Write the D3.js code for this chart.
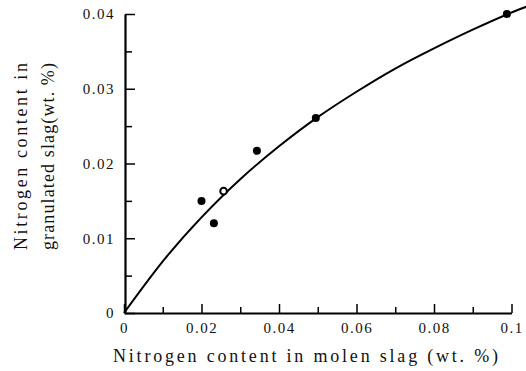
<!DOCTYPE html>
<html>
<head>
<meta charset="utf-8">
<script src="https://cdn.jsdelivr.net/npm/d3@7"></script>
<style>
  body { margin: 0; background: #fff; }
  svg { display: block; }
</style>
</head>
<body>
<svg id="chart" width="526" height="371"></svg>
<script>
// measured points: N in molten slag vs N in granulated slag (wt.%)
const filledX = [0.020, 0.0232, 0.0343, 0.0495, 0.0988];
const filledY = [0.0150, 0.0120, 0.0217, 0.0261, 0.0400];
const openX = [0.0257];
const openY = [0.0163];

// fitted curve
const curveX = [0, 0.01, 0.02, 0.03, 0.04, 0.05, 0.06, 0.07, 0.08, 0.09, 0.1, 0.104];
const curveY = [0, 0.0069, 0.0128, 0.0179, 0.0223, 0.0262, 0.0296, 0.0327, 0.0354, 0.0379, 0.0402, 0.0410];

const xTicks = [0, 0.02, 0.04, 0.06, 0.08, 0.1];
const xTickLabels = ["0", "0.02", "0.04", "0.06", "0.08", "0.1"];
const xMinor = [0.01, 0.03, 0.05, 0.07, 0.09];
const yTicks = [0, 0.01, 0.02, 0.03, 0.04];
const yTickLabels = ["0", "0.01", "0.02", "0.03", "0.04"];
const yMinor = [0.005, 0.015, 0.025, 0.035];

const FONT = "Liberation Serif";
const svg = d3.select("#chart");

const x = d3.scaleLinear().domain([0, 0.1]).range([124, 511.5]);
const y = d3.scaleLinear().domain([0, 0.04]).range([313, 14]);

// minor ticks
svg.append("g")
  .attr("transform", "translate(0,313)")
  .call(d3.axisBottom(x).tickValues(xMinor).tickSize(-6).tickFormat(""))
  .call(g => g.select(".domain").remove())
  .selectAll("line").attr("stroke-width", 1.5);

svg.append("g")
  .attr("transform", "translate(125,0)")
  .call(d3.axisLeft(y).tickValues(yMinor).tickSize(-7).tickFormat(""))
  .call(g => g.select(".domain").remove())
  .selectAll("line").attr("stroke-width", 1.5);

// major axes
const xAxisG = svg.append("g")
  .attr("transform", "translate(0,313)")
  .call(d3.axisBottom(x).tickValues(xTicks).tickSize(-9).tickSizeOuter(0).tickPadding(9)
    .tickFormat((d, i) => xTickLabels[i]))
  .attr("font-family", FONT)
  .attr("font-size", 15);
xAxisG.select(".domain").attr("stroke-width", 2.2);
xAxisG.selectAll("line").attr("stroke-width", 1.5);

const yAxisG = svg.append("g")
  .attr("transform", "translate(125,0)")
  .call(d3.axisLeft(y).tickValues(yTicks).tickSize(-10).tickSizeOuter(0).tickPadding(10)
    .tickFormat((d, i) => yTickLabels[i]))
  .attr("font-family", FONT)
  .attr("font-size", 15);
yAxisG.select(".domain").attr("stroke-width", 2.2);
yAxisG.selectAll("line").attr("stroke-width", 1.5);

svg.selectAll(".tick text")
  .attr("font-family", FONT)
  .attr("font-size", 15)
  .attr("letter-spacing", 1.5)
  .attr("fill", "#111");

// curve
const line = d3.line()
  .x((d, i) => x(curveX[i]))
  .y(d => y(d))
  .curve(d3.curveNatural);

svg.append("path")
  .datum(curveY)
  .attr("d", line)
  .attr("fill", "none")
  .attr("stroke", "#000")
  .attr("stroke-width", 2);

// points
svg.append("g")
  .selectAll("circle")
  .data(filledY)
  .join("circle")
  .attr("cx", (d, i) => x(filledX[i]))
  .attr("cy", d => y(d))
  .attr("r", 4)
  .attr("fill", "#000");

svg.append("g")
  .selectAll("circle")
  .data(openY)
  .join("circle")
  .attr("cx", (d, i) => x(openX[i]))
  .attr("cy", d => y(d))
  .attr("r", 3.3)
  .attr("fill", "#fff")
  .attr("stroke", "#000")
  .attr("stroke-width", 2);

// axis titles
svg.append("text")
  .attr("x", 113)
  .attr("y", 362)
  .attr("font-family", FONT)
  .attr("font-size", 18)
  .attr("textLength", 385)
  .attr("lengthAdjust", "spacing")
  .attr("fill", "#111")
  .text("Nitrogen content in molen slag (wt. %)");

const yTitle = svg.append("g")
  .attr("transform", "translate(0,250) rotate(-90)");
yTitle.append("text")
  .attr("x", 0)
  .attr("y", 27)
  .attr("font-family", FONT)
  .attr("font-size", 18)
  .attr("textLength", 187)
  .attr("lengthAdjust", "spacing")
  .attr("fill", "#111")
  .text("Nitrogen content in");
yTitle.append("text")
  .attr("x", 0)
  .attr("y", 54)
  .attr("font-family", FONT)
  .attr("font-size", 18)
  .attr("textLength", 187)
  .attr("lengthAdjust", "spacing")
  .attr("fill", "#111")
  .text("granulated slag(wt. %)");
</script>
</body>
</html>
